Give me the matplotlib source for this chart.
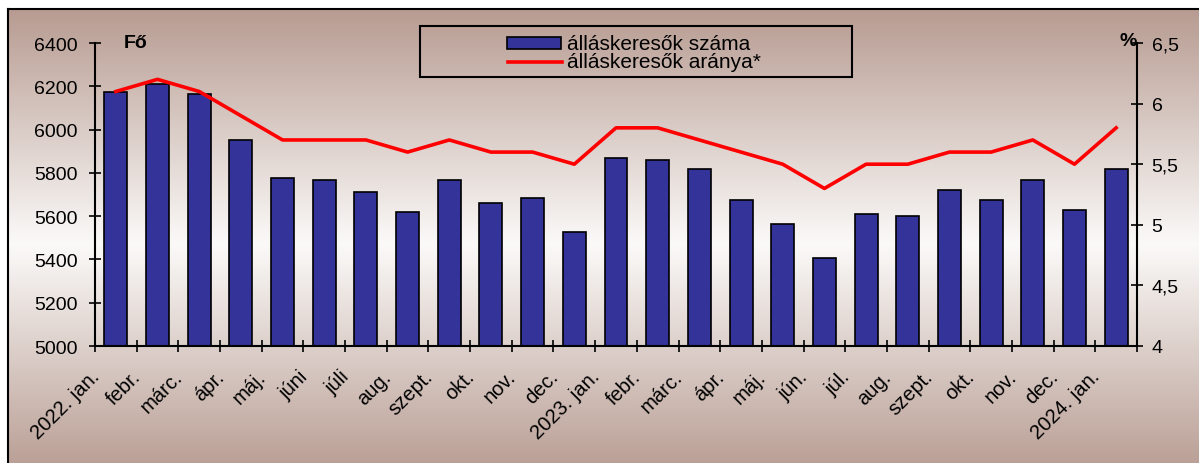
import numpy as np
import matplotlib
matplotlib.use("Agg")
import matplotlib.pyplot as plt
import matplotlib.transforms as mtransforms
from matplotlib.lines import Line2D
from matplotlib.patches import Rectangle

plt.rcParams['font.family'] = ['Liberation Sans', 'DejaVu Sans']

categories = ["2022. jan.", "febr.", "márc.", "ápr.", "máj.", "júni", "júli", "aug.",
              "szept.", "okt.", "nov.", "dec.", "2023. jan.", "febr.", "márc.", "ápr.",
              "máj.", "jún.", "júl.", "aug.", "szept.", "okt.", "nov.", "dec.", "2024. jan."]
jobseekers = [6175, 6210, 6165, 5950, 5775, 5765, 5710, 5620, 5765, 5660, 5685, 5525,
              5870, 5860, 5820, 5675, 5565, 5405, 5610, 5600, 5720, 5675, 5765, 5630, 5820]
rate = [6.1, 6.2, 6.1, 5.9, 5.7, 5.7, 5.7, 5.6, 5.7, 5.6, 5.6, 5.5,
        5.8, 5.8, 5.7, 5.6, 5.5, 5.3, 5.5, 5.5, 5.6, 5.6, 5.7, 5.5, 5.8]
left_ticks = [5000, 5200, 5400, 5600, 5800, 6000, 6200, 6400]
right_ticks = [4, 4.5, 5, 5.5, 6, 6.5]
right_labels = ["4", "4,5", "5", "5,5", "6", "6,5"]
legend_labels = ["álláskeresők száma", "álláskeresők aránya*"]

BAR_COLOR = '#333399'
W, H = 1199, 464
fig = plt.figure(figsize=(W / 100, H / 100), dpi=100)
fig.patch.set_facecolor('white')

def fx(px):
    return px / W

def fy(py):
    return 1 - py / H

# background gradient (frame extends beyond right and bottom edges)
bg = fig.add_axes([fx(8), -0.02, 1.02 - fx(8), fy(10) + 0.02], zorder=-10)
n = 400
ts = np.linspace(0, 1, n)  # 0 = top
top = np.array([183, 155, 145]) / 255
mid = np.array([251, 250, 249]) / 255
bot = np.array([184, 157, 147]) / 255
pm = 0.51
cols = np.zeros((n, 3))
for i, t in enumerate(ts):
    if t < pm:
        f = t / pm
        cols[i] = top * (1 - f) + mid * f
    else:
        f = (t - pm) / (1 - pm)
        cols[i] = mid * (1 - f) + bot * f
bg.imshow(cols[:, None, :], aspect='auto', extent=[0, 1, 0, 1])
bg.set_xlim(0, 1); bg.set_ylim(0, 1)
bg.set_xticks([]); bg.set_yticks([])
for s in bg.spines.values():
    s.set_linewidth(1.5)
    s.set_color('black')

ax = fig.add_axes([fx(95), fy(347), fx(1137) - fx(95), fy(44) - fy(347)])
ax.patch.set_alpha(0)
x = np.arange(len(categories))
ax.bar(x, jobseekers, width=0.55, color=BAR_COLOR, edgecolor='black', linewidth=1.2, zorder=2)
ax.set_ylim(5000, 6400)
ax.set_xlim(-0.5, len(categories) - 0.5)
ax.set_yticks(left_ticks)
ax.tick_params(axis='y', direction='inout', length=9, width=1.2, labelsize=14, pad=8)
ax.set_xticks(np.arange(len(categories) + 1) - 0.5)
ax.set_xticklabels([])
ax.tick_params(axis='x', direction='inout', length=9, width=1.2)
ax.set_xticks(x, minor=True)
ax.set_xticklabels(categories, minor=True, rotation=45, ha='right', va='center',
                   rotation_mode='anchor', fontsize=14.5)
ax.tick_params(axis='x', which='minor', length=0, pad=19.5)
offset = mtransforms.ScaledTranslation(-19.5 / 100, 0, fig.dpi_scale_trans)
for lab in ax.get_xticklabels(minor=True):
    lab.set_transform(lab.get_transform() + offset)
ax.spines['top'].set_visible(False)
ax.spines['right'].set_visible(False)
for s in ['left', 'bottom']:
    ax.spines[s].set_linewidth(1.5)

ax2 = ax.twinx()
ax2.plot(x, rate, color='red', linewidth=2.6, zorder=3)
ax2.set_ylim(4, 6.5)
ax2.set_yticks(right_ticks)
ax2.set_yticklabels(right_labels)
ax2.tick_params(axis='y', direction='inout', length=9, width=1.2, labelsize=14, pad=6)
ax2.spines['top'].set_visible(False)
ax2.spines['left'].set_visible(False)
ax2.spines['bottom'].set_visible(False)
ax2.spines['right'].set_linewidth(1.5)

fig.text(fx(124), fy(44), "Fő", fontsize=14, fontweight='bold', va='center', ha='left')
fig.text(fx(1128), fy(41), "%", fontsize=14, fontweight='bold', va='center', ha='center')

# legend (drawn manually to match box geometry)
fig.add_artist(Rectangle((fx(420), fy(78)), fx(852) - fx(420), fy(27) - fy(78),
                         transform=fig.transFigure, facecolor='none', edgecolor='black',
                         linewidth=1.5))
fig.add_artist(Rectangle((fx(507), fy(50)), fx(561) - fx(507), fy(38) - fy(50),
                         transform=fig.transFigure, facecolor=BAR_COLOR, edgecolor='black',
                         linewidth=1.2))
fig.add_artist(Line2D([fx(508), fx(562)], [fy(63), fy(63)], transform=fig.transFigure,
                      color='red', linewidth=2.6))
fig.text(fx(567), fy(44), legend_labels[0], fontsize=15, va='center', ha='left')
fig.text(fx(567), fy(63), legend_labels[1], fontsize=15, va='center', ha='left')

fig.savefig("out.png", dpi=100)
